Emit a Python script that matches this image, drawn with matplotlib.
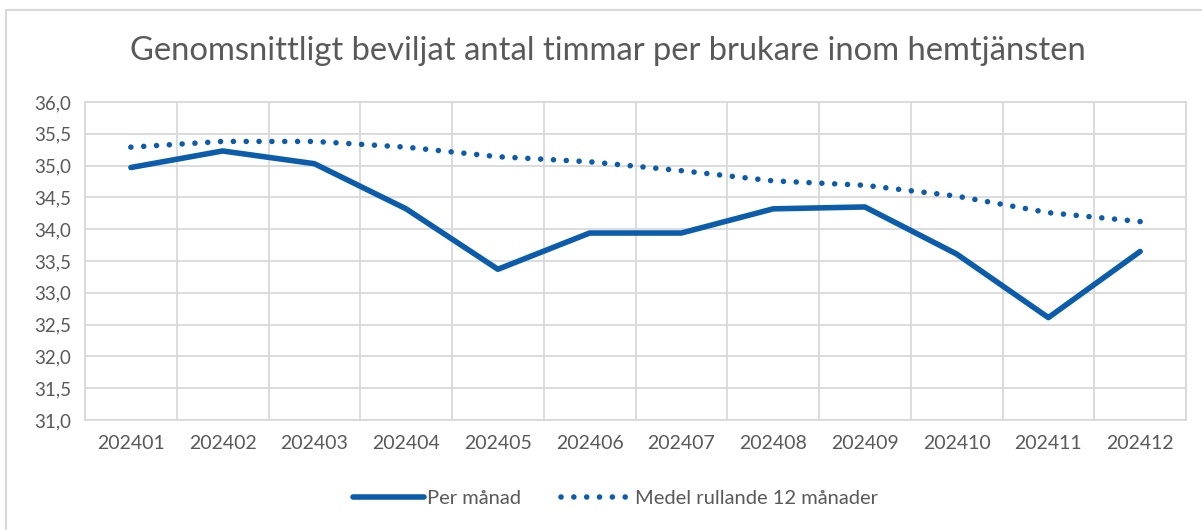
import matplotlib.pyplot as plt
import numpy as np
from matplotlib.patches import Rectangle

plt.rcParams['font.family'] = ['Lato', 'DejaVu Sans']

# data
manader = ['202401', '202402', '202403', '202404', '202405', '202406',
           '202407', '202408', '202409', '202410', '202411', '202412']
per_manad = [34.97, 35.23, 35.03, 34.32, 33.37, 33.94,
             33.94, 34.32, 34.35, 33.61, 32.61, 33.65]
medel_12 = [35.29, 35.38, 35.38, 35.29, 35.14, 35.06,
            34.92, 34.76, 34.69, 34.52, 34.26, 34.12]

blue = '#0B5CAB'
grey_text = '#595959'
grid_col = '#D9D9D9'

fig = plt.figure(figsize=(12.02, 5.30), dpi=100)
ax = fig.add_axes([85 / 1202, 1 - 420 / 530, 1101 / 1202, 318 / 530])

x = np.arange(len(manader))
ax.plot(x, per_manad, color=blue, lw=4, solid_capstyle='round', label='Per månad')
ax.plot(x, medel_12, color=blue, lw=4, linestyle=(0, (0.01, 2.3)),
        dash_capstyle='round', label='Medel rullande 12 månader')

ax.set_xlim(-0.5, len(manader) - 0.5)
ax.set_ylim(31, 36)
ax.set_yticks(np.arange(31, 36.01, 0.5))
ax.set_yticklabels([f'{v:.1f}'.replace('.', ',') for v in np.arange(31, 36.01, 0.5)])
ax.set_xticks(x)
ax.set_xticklabels(manader)
ax.set_xticks(np.arange(-0.5, len(manader), 1), minor=True)

ax.grid(axis='y', which='major', color=grid_col, lw=1.3)
ax.grid(axis='x', which='minor', color=grid_col, lw=1.3)
ax.tick_params(which='both', length=0)
ax.tick_params(axis='y', pad=10, labelsize=13.5, labelcolor=grey_text)
ax.tick_params(axis='x', pad=11, labelsize=14, labelcolor=grey_text)
for s in ax.spines.values():
    s.set_color(grid_col)
    s.set_linewidth(1.3)
ax.set_axisbelow(True)

fig.text(0.506, 1 - 51 / 530, 'Genomsnittligt beviljat antal timmar per brukare inom hemtjänsten',
         ha='center', va='center', fontsize=23.6, color=grey_text)

leg = fig.legend(loc='center', bbox_to_anchor=(0.512, 1 - 498 / 530), ncol=2,
                 frameon=False, fontsize=14.5, handlelength=3.5,
                 columnspacing=2.0, handletextpad=0.15)
for t in leg.get_texts():
    t.set_color(grey_text)

# ramen runt diagrammet
fig.patches.append(Rectangle((6 / 1202, -0.01), 1.2, 1 - 10 / 530 + 0.01,
                             transform=fig.transFigure, fill=False,
                             edgecolor=grid_col, lw=1.5))

fig.savefig('out.png', dpi=100)
